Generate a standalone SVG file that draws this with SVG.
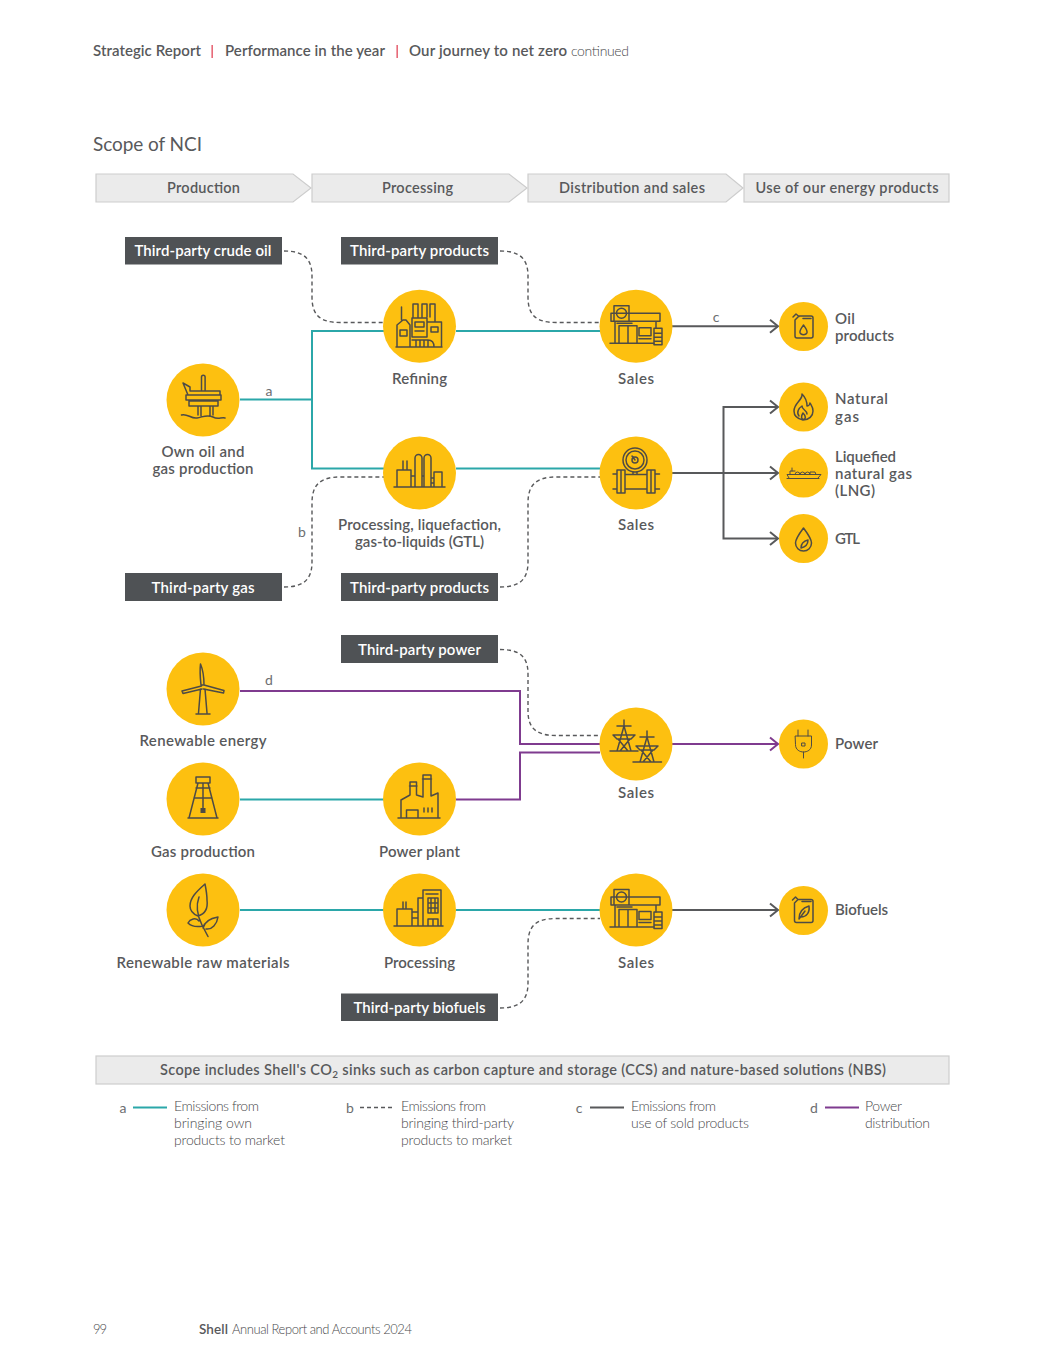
<svg xmlns="http://www.w3.org/2000/svg" width="1048" height="1365" viewBox="0 0 1048 1365">
<style>
text{font-family:"Lato","Liberation Sans",sans-serif;fill:#58595b;font-size:15px;font-weight:600}
.m{text-anchor:middle}
.w{fill:#fff}
.h{font-size:14.5px}
.l{font-weight:300;font-size:14px;fill:#48494b}
.f{font-size:13px}
.k{font-weight:400;font-size:14px;fill:#6d6e71}
.bar{fill:#ebebeb;stroke:#cdcdcd;stroke-width:1.2}
.tag{fill:#4f5255}
.big{fill:#fdc010}
.ic{fill:none;stroke:#4e4b45;stroke-width:1.5;stroke-linejoin:round;stroke-linecap:round}
.th{stroke-width:1}
.te{fill:none;stroke:#2ba7a9;stroke-width:2}
.gr{fill:none;stroke:#58595b;stroke-width:2}
.pu{fill:none;stroke:#7f3b8f;stroke-width:2}
.da{fill:none;stroke:#58595b;stroke-width:1.4;stroke-dasharray:4 3}
</style>
<defs>
<marker id="ag" markerUnits="userSpaceOnUse" markerWidth="14" markerHeight="18" refX="10" refY="8" orient="auto"><path d="M2 1.5L10 8L2 14.5" fill="none" stroke="#58595b" stroke-width="2"/></marker>
<marker id="ap" markerUnits="userSpaceOnUse" markerWidth="14" markerHeight="18" refX="10" refY="8" orient="auto"><path d="M2 1.500L10 8L2 14.500" fill="none" stroke="#7f3b8f" stroke-width="2"/></marker>
<g id="shop" class="ic"><path d="M-25-13H24V-5H-25ZM-22-20.500H-7V-5H-22ZM-19.500-13a5 5 0 1 0 10 0a5 5 0 1 0 -10 0M-21-5V17M20-5V2M-26 17H18M-17-.5V17M-8-.5V17M1-.5V17M-17-.5H1M3 1.500H15V9.500H3ZM3 12.500H15M-4-3H-19"/><path d="M18 2H26V18.500H18ZM18 7H26M18 11H26M18 15H26"/></g>
</defs>

<g id="page-header">
<text x="93" y="56" textLength="108">Strategic Report</text>
<rect x="211.500" y="45" width="1.300" height="13" fill="#e2485a"/>
<text x="225" y="56" textLength="160">Performance in the year</text>
<rect x="396.500" y="45" width="1.300" height="13" fill="#e2485a"/>
<text x="409" y="56" textLength="158">Our journey to net zero</text>
<text x="571" y="56" class="l" textLength="58">continued</text>
<text x="93" y="151" style="font-size:19px;font-weight:400" textLength="109">Scope of NCI</text>
</g>

<g id="stage-production"><path class="bar" d="M96 174H293L311 188L293 202H96Z"/><text class="m h" x="203.500" y="193" textLength="73">Production</text></g>
<g id="stage-processing"><path class="bar" d="M312 174H509L527 188L509 202H312Z"/><text class="m h" x="417.500" y="193" textLength="71">Processing</text></g>
<g id="stage-distribution"><path class="bar" d="M528 174H726L743 188L726 202H528Z"/><text class="m h" x="632" y="193" textLength="146">Distribution and sales</text></g>
<g id="stage-use"><rect class="bar" x="744" y="174" width="205" height="28"/><text class="m h" x="847" y="193" textLength="183">Use of our energy products</text></g>

<g id="connectors">
<path class="da" d="M284 251C303 251 312 258 312 276V297C312 315 320 322.500 340 322.500H384"/>
<path class="da" d="M500 251C519 251 528 258 528 276V297C528 315 536 322.500 556 322.500H600"/>
<path class="da" d="M284 587C303 587 312 580 312 562V503C312 485 320 477 340 477H384"/>
<path class="da" d="M500 587C519 587 528 580 528 562V503C528 485 536 477 556 477H600"/>
<path class="da" d="M500 649.500C519 649.500 528 656 528 674V711C528 728 536 735.500 556 735.500H600"/>
<path class="da" d="M500 1008C519 1008 528 1001 528 983V944C528 926 536 918.500 556 918.500H600"/>
<path class="te" d="M240 399.500H312M384 331H312V468.500H384M456 331H600M456 468.500H600"/>
<path class="te" d="M240 799.500H384M240 910H384M456 910H600"/>
<path class="gr" d="M672 326.300H778" marker-end="url(#ag)"/>
<path class="gr" d="M672 473H778" marker-end="url(#ag)"/>
<path class="gr" d="M723.500 473V407H778" marker-end="url(#ag)"/>
<path class="gr" d="M723.500 473V538.500H778" marker-end="url(#ag)"/>
<path class="gr" d="M672 910H778" marker-end="url(#ag)"/>
<path class="pu" d="M240 691H520V744H600M600 752.500H520V799.500H456"/>
<path class="pu" d="M672 744H778" marker-end="url(#ap)"/>
<text x="269" y="396" class="k m">a</text>
<text x="302" y="537" class="k m">b</text>
<text x="716" y="322" class="k m">c</text>
<text x="269" y="685" class="k m">d</text>
</g>

<g id="tag-crude"><rect class="tag" x="125" y="237" width="157" height="27.500"/><text class="m w" x="203" y="256" textLength="137">Third-party crude oil</text></g>
<g id="tag-products-1"><rect class="tag" x="341" y="237" width="157" height="27.500"/><text class="m w" x="419.500" y="256" textLength="139">Third-party products</text></g>
<g id="tag-gas"><rect class="tag" x="125" y="573" width="157" height="28"/><text class="m w" x="203" y="593" textLength="103">Third-party gas</text></g>
<g id="tag-products-2"><rect class="tag" x="341" y="573" width="157" height="28"/><text class="m w" x="419.500" y="593" textLength="139">Third-party products</text></g>
<g id="tag-power"><rect class="tag" x="341" y="635" width="157" height="28"/><text class="m w" x="419.500" y="655" textLength="123">Third-party power</text></g>
<g id="tag-biofuels"><rect class="tag" x="341" y="993.500" width="157" height="27.500"/><text class="m w" x="419.500" y="1013" textLength="132">Third-party biofuels</text></g>

<g id="node-own-production"><circle class="big" cx="203" cy="400" r="36.500"/>
<path class="ic" d="M201.500 391V377a1.800 1.800 0 0 1 3.600 0V391M183 383L188 395M183 383L190 387V391H220V395H188M186 395H221V400H186ZM189 401H218V406H189ZM198 406V415M201 406V416M210 406V416M213 406V415M181.500 415C187 413 191 419 197 418C203 417 207 414 213 417C218 420 221 417 225 418"/>
<text class="m" x="203" y="457" textLength="83">Own oil and</text><text class="m" x="203" y="474" textLength="101">gas production</text></g>

<g id="node-refining"><circle class="big" cx="419.500" cy="326.300" r="36.500"/>
<path class="ic" d="M397 347V325L403 320H406L410 325V347M401.500 320V307M413 317V304H418V317M422 317V304H427V317M430 317V304H435V322M412 318H427V337H412ZM415 322H424V327H415ZM415 331H424M427 322H441.500V347H434C434 342 432 340 428 340H412M431 327H438V332H431ZM396 347H442M416 340V347M420 340V347M424 340V347M428 340V347M400 330H407V336H400Z"/>
<text class="m" x="419.500" y="384" textLength="55">Refining</text></g>

<g id="node-sales-oil"><circle class="big" cx="636" cy="326.300" r="36.500"/><use href="#shop" x="636" y="326.300"/>
<text class="m" x="636" y="384" textLength="36">Sales</text></g>

<g id="node-gtl-plant"><circle class="big" cx="419.500" cy="473" r="36.500"/>
<path class="ic" d="M394 487H445M397 487V470H411V487M403 470V461M407 470V461M415 487V458a3.500 3.500 0 0 1 7 0V487M424 487V458a3.500 3.500 0 0 1 7 0V487M411 476H415M422 476H424M431 478H434M431 483H434M434 487V472H442V487"/>
<text class="m" x="419.500" y="530" textLength="163">Processing, liquefaction,</text><text class="m" x="419.500" y="547" textLength="129">gas-to-liquids (GTL)</text></g>

<g id="node-sales-gas"><circle class="big" cx="636" cy="473" r="36.500"/>
<path class="ic" d="M623 460a12 12 0 1 0 24 0a12 12 0 1 0 -24 0M626 460a9 9 0 1 0 18 0a9 9 0 1 0 -18 0M632 456L635 460M632 460a3 3 0 1 0 6 0a3 3 0 1 0 -6 0M633 472H637V474M633 472V474M613 474H617M613 489H617M617 470H625V493H617ZM621 470V493M647 470H655V493H647ZM651 470V493M625 474.500H647M625 489H647M655 474H659.500M655 489H659.500"/>
<text class="m" x="636" y="530" textLength="36">Sales</text></g>

<g id="node-oil-products"><circle class="big" cx="803.500" cy="326.500" r="24.500"/>
<path class="ic" d="M795 320L799 316H811a2 2 0 0 1 2 2V336a2 2 0 0 1-2 2H797a2 2 0 0 1-2-2ZM793 317L796 314L799 316.500M803 318.500H811M803.500 325C801 328.500 799.500 330.500 800 332.500C801 335.500 806 335.500 807 332.500C807.500 330.500 806 328.500 803.500 325Z"/>
<text x="835" y="324" textLength="20">Oil</text><text x="835" y="341" textLength="59">products</text></g>

<g id="node-natural-gas"><circle class="big" cx="803.500" cy="407" r="24.500"/>
<path class="ic" d="M802 394C803 400 794 403 794 411C794 417 798 419 803 420C809 420 813 416 813 411C813 407 811 405 810 403C810 405 808 406 807 406C807 402 805 397 802 394ZM799 416C796 412 799 408 802 406C802 410 807 410 807 414M803 413C801 416 801 419 803.500 419.500C806 419 806 416 803 413Z"/>
<text x="835" y="404" textLength="53">Natural</text><text x="835" y="422" textLength="24">gas</text></g>

<g id="node-lng"><circle class="big" cx="803.500" cy="473" r="24.500"/>
<path class="ic th" d="M787 478.500H819M789 478L787 474.500H821L818 478M790 474.500V471H795M795 474.500a2.500 2.500 0 0 1 5 0M800 474.500a2.500 2.500 0 0 1 5 0M805 474.500a2.500 2.500 0 0 1 5 0M810 474.500V472H815L816 474.500M792 471V468"/>
<text x="835" y="462" textLength="61">Liquefied</text><text x="835" y="479" textLength="77">natural gas</text><text x="835" y="496" textLength="40">(LNG)</text></g>

<g id="node-gtl"><circle class="big" cx="803.500" cy="538.500" r="24.500"/>
<path class="ic" d="M803.500 528C799 534 795.500 539 795.500 543A8 8 0 0 0 811.500 543C811.500 539 808 534 803.500 528ZM801 548C805 547 808 544 808 540C804 541 801 544 801 548Z"/>
<text x="835" y="544" textLength="25">GTL</text></g>

<g id="node-renewable-energy"><circle class="big" cx="203" cy="689" r="36.500"/>
<path class="ic" d="M200.500 664C199.500 672 200.500 680 201 685H204C204 678 203 670 200.500 664ZM201.500 686L182 691L183 693.500L202 689M204 685L224 690.500L223.500 693L203.500 689M200.500 689L198.500 713M205 689L207 713M196 714H210"/>
<text class="m" x="203" y="746" textLength="127">Renewable energy</text></g>

<g id="node-gas-production"><circle class="big" cx="203" cy="799" r="36.500"/>
<path class="ic" d="M196 777H210V783H196ZM198 783L189 818M208 783L217 818M188 818H218M196 788H210M194 798H212M203 783V810"/><rect x="200.500" y="808" width="5" height="5" fill="#4e4b45"/>
<text class="m" x="203" y="857" textLength="104">Gas production</text></g>

<g id="node-power-plant"><circle class="big" cx="419.500" cy="799" r="36.500"/>
<path class="ic" d="M401 817V800L410 795M410 795V782H416.500V795M409.500 786H417M416.500 795L423 797V775H431V796L438 793V817M422.500 779H431.500M398 818H440M406.500 818V810H418V818M424 808V812M428 808V812M432 808V812"/>
<text class="m" x="419.500" y="857" textLength="81">Power plant</text></g>

<g id="node-sales-power"><circle class="big" cx="636" cy="744" r="36.500"/>
<path class="ic" d="M624 720V726M624 726L617 751M624 726L631 751M610 751H638M617 726H631M613 735H635L631 739H617ZM618 739L628 751M630 739L620 751M647 731V737M647 737L640 762M647 737L654 762M633 762H661.500M640 737H654M636 746H658L654 750H640ZM641 750L651 762M653 750L643 762"/>
<text class="m" x="636" y="798" textLength="36">Sales</text></g>

<g id="node-power"><circle class="big" cx="803.500" cy="744" r="24.500"/>
<path class="ic th" d="M798 730V736M808 730V736M795.500 736H811.500V745C811.500 750 807 752 803.500 752C800 752 795.500 750 795.500 745ZM803.500 752V758M802 743H805V746H802Z"/>
<text x="835" y="749" textLength="43">Power</text></g>

<g id="node-raw-materials"><circle class="big" cx="203" cy="910" r="36.500"/>
<path class="ic" d="M205 884C196 892 190 898 190 906C190 911 193 914 198 916C205 914 208 908 207 900C207 895 206 889 205 884ZM199 897C196 905 197 915 202 925L208 936.500M203 928C205 920 212 918 218 917C217 924 212 930 206 929M199 921C196 917 190 919 188 923C192 927 198 927 203 926"/>
<text class="m" x="203" y="968" textLength="173">Renewable raw materials</text></g>

<g id="node-processing-bio"><circle class="big" cx="419.500" cy="910" r="36.500"/>
<path class="ic" d="M394 926H443M397 926V909H412V926M403 909V902M406 909V902M412 912H418M412 918H418M418 926V898H423V926M423 926V890H441V926M426 894H438M428 898H438V913H428ZM428 903H438M428 908H438M431 898V913M435 898V913M428 926V919H438V926M433 919V926"/>
<text class="m" x="419.500" y="968" textLength="71">Processing</text></g>

<g id="node-sales-bio"><circle class="big" cx="636" cy="910" r="36.500"/><use href="#shop" x="636" y="910"/>
<text class="m" x="636" y="968" textLength="36">Sales</text></g>

<g id="node-biofuels"><circle class="big" cx="803.500" cy="910.500" r="24.500"/>
<path class="ic" d="M794.500 903L798 899.500H811a2 2 0 0 1 2 2V920.500a2 2 0 0 1-2 2H796.500a2 2 0 0 1-2-2ZM792.500 900L795.500 897L798 899.500M802 901.500H811M799 919C799 912 802 908 809 906C810 913 806 917 801 917M799 919L805 911"/>
<text x="835" y="915" textLength="53">Biofuels</text></g>

<g id="scope-banner"><rect class="bar" x="96" y="1056" width="853" height="28"/>
<text x="160" y="1075" class="h" textLength="726">Scope includes Shell's CO<tspan dy="3" style="font-size:10px">2</tspan><tspan dy="-3"> sinks such as carbon capture and storage (CCS) and nature-based solutions (NBS)</tspan></text></g>

<g id="legend">
<text x="123" y="1113" class="k m">a</text><path class="te" d="M133 1107.500H167"/>
<text x="174" y="1111" class="l" textLength="85">Emissions from</text><text x="174" y="1128" class="l" textLength="78">bringing own</text><text x="174" y="1145" class="l" textLength="111">products to market</text>
<text x="350" y="1113" class="k m">b</text><path class="da" d="M360 1107.500H395"/>
<text x="401" y="1111" class="l" textLength="85">Emissions from</text><text x="401" y="1128" class="l" textLength="113">bringing third-party</text><text x="401" y="1145" class="l" textLength="111">products to market</text>
<text x="579" y="1113" class="k m">c</text><path class="gr" d="M590 1107.500H624"/>
<text x="631" y="1111" class="l" textLength="85">Emissions from</text><text x="631" y="1128" class="l" textLength="118">use of sold products</text>
<text x="814" y="1113" class="k m">d</text><path class="pu" d="M825 1107.500H859"/>
<text x="865" y="1111" class="l" textLength="37">Power</text><text x="865" y="1128" class="l" textLength="65">distribution</text>
</g>

<g id="page-footer">
<text x="93" y="1334" class="l f" textLength="14">99</text>
<text x="199" y="1334" style="font-size:13.5px" textLength="29">Shell</text>
<text x="232" y="1334" class="l f" textLength="180">Annual Report and Accounts 2024</text>
</g>
</svg>
